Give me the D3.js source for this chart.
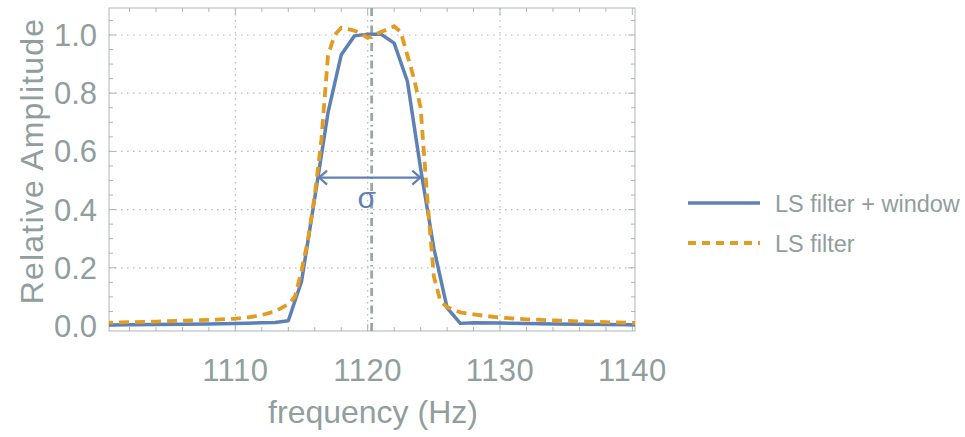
<!DOCTYPE html>
<html>
<head>
<meta charset="utf-8">
<script src="https://cdn.jsdelivr.net/npm/d3@7"></script>
<style>
  body { margin: 0; background: #fff; }
  svg text { font-family: "Liberation Sans", Arial, sans-serif; fill: #909e9e; }
</style>
</head>
<body>
<svg id="chart" width="965" height="437"></svg>
<script>
// Data
const windowFreq = [1100, 1102, 1104, 1106, 1108, 1110, 1112, 1113, 1114, 1115, 1116, 1117, 1118, 1119, 1120, 1121, 1122, 1123, 1124, 1125, 1126, 1127, 1128, 1130, 1132, 1134, 1136, 1138, 1140, 1141];
const windowAmp  = [0.003, 0.004, 0.005, 0.006, 0.007, 0.009, 0.011, 0.012, 0.018, 0.153, 0.44, 0.733, 0.932, 0.997, 1.003, 1.003, 0.972, 0.841, 0.54, 0.267, 0.062, 0.009, 0.011, 0.010, 0.009, 0.007, 0.006, 0.005, 0.004, 0.004];

const filterFreq = [1100, 1102, 1104, 1106, 1108, 1110, 1111, 1112, 1113, 1114, 1114.5, 1115, 1115.5, 1116, 1116.5, 1117, 1117.5, 1118, 1118.5, 1119, 1119.5, 1120, 1120.5, 1121, 1121.5, 1122, 1122.5, 1123, 1123.5, 1124, 1124.5, 1125, 1125.5, 1126, 1126.5, 1127, 1128, 1129, 1130, 1132, 1134, 1136, 1138, 1140, 1141];
const filterAmp  = [0.011, 0.013, 0.015, 0.018, 0.021, 0.025, 0.030, 0.038, 0.050, 0.075, 0.10, 0.19, 0.30, 0.45, 0.64, 0.93, 1.0, 1.025, 1.02, 1.015, 1.005, 0.99, 1.0, 1.01, 1.02, 1.03, 1.01, 0.93, 0.85, 0.75, 0.44, 0.17, 0.085, 0.065, 0.055, 0.047, 0.040, 0.034, 0.029, 0.023, 0.019, 0.016, 0.013, 0.011, 0.011];

const xMajorTicks = [1110, 1120, 1130, 1140];
const yMajorTicks = [0, 0.2, 0.4, 0.6, 0.8, 1.0];
const centerFreq = 1120.3;
const sigmaSpan = [1116.25, 1124.05];
const sigmaLevel = 0.51;
const seriesNames = ['LS filter + window', 'LS filter'];

const blue = '#5e81b5', orange = '#e19c24';

const svg = d3.select('#chart');
const pLeft = 109, pRight = 635, pTop = 8, pBottom = 331;

const x = d3.scaleLinear().domain([1100.45, 1140.2]).range([pLeft, pRight]);
const y = d3.scaleLinear().domain([-0.0172, 1.0928]).range([pBottom, pTop]);

// clip
svg.append('defs').append('clipPath').attr('id', 'plot')
  .append('rect').attr('x', pLeft).attr('y', pTop).attr('width', pRight - pLeft).attr('height', pBottom - pTop);

// grid
const grid = svg.append('g').attr('stroke', '#b9b9b9').attr('stroke-width', 1.2).attr('stroke-dasharray', '1.5,4.5');
grid.selectAll('.gx').data(xMajorTicks.filter(d => d < 1140)).enter().append('line')
  .attr('x1', d => x(d)).attr('x2', d => x(d)).attr('y1', pTop).attr('y2', pBottom);
grid.selectAll('.gy').data(yMajorTicks.filter(d => d > 0)).enter().append('line')
  .attr('y1', d => y(d)).attr('y2', d => y(d)).attr('x1', pLeft).attr('x2', pRight);

// frame ticks (all sides, inward)
const frame = svg.append('g').attr('stroke', '#adb5b5').attr('stroke-width', 1);
const xMinor = d3.range(1102, 1141, 2).filter(d => !xMajorTicks.includes(d));
const yMinor = d3.range(0, 1.09, 0.05).map(d => +d.toFixed(2)).filter(d => !yMajorTicks.includes(d));
[[xMajorTicks, 7], [xMinor, 4]].forEach(([ticks, len]) => {
  frame.selectAll(null).data(ticks).enter().append('line')
    .attr('x1', d => x(d)).attr('x2', d => x(d)).attr('y1', pBottom).attr('y2', pBottom - len);
  frame.selectAll(null).data(ticks).enter().append('line')
    .attr('x1', d => x(d)).attr('x2', d => x(d)).attr('y1', pTop).attr('y2', pTop + len);
});
[[yMajorTicks, 7], [yMinor, 4]].forEach(([ticks, len]) => {
  frame.selectAll(null).data(ticks).enter().append('line')
    .attr('y1', d => y(d)).attr('y2', d => y(d)).attr('x1', pLeft).attr('x2', pLeft + len);
  frame.selectAll(null).data(ticks).enter().append('line')
    .attr('y1', d => y(d)).attr('y2', d => y(d)).attr('x1', pRight).attr('x2', pRight - len);
});
frame.append('rect').attr('x', pLeft).attr('y', pTop).attr('width', pRight - pLeft).attr('height', pBottom - pTop).attr('fill', 'none');

// tick labels
svg.selectAll('.xl').data(xMajorTicks).enter().append('text')
  .attr('x', d => x(d)).attr('y', 381).attr('text-anchor', 'middle').attr('font-size', 31)
  .attr('letter-spacing', 0.5).text(d => d);
svg.selectAll('.yl').data(yMajorTicks).enter().append('text')
  .attr('x', 97).attr('y', d => y(d) + 11).attr('text-anchor', 'end').attr('font-size', 31)
  .text(d => d.toFixed(1));

// axis titles
svg.append('text').attr('x', 373).attr('y', 423).attr('text-anchor', 'middle').attr('font-size', 32)
  .text('frequency (Hz)');
svg.append('text').attr('transform', 'translate(43,161) rotate(-90)').attr('text-anchor', 'middle').attr('font-size', 32)
  .attr('letter-spacing', 1.2).text('Relative Amplitude');

// curves
const plot = svg.append('g').attr('clip-path', 'url(#plot)');
const line = d3.line().x(d => x(d[0])).y(d => y(d[1]));

plot.append('line')
  .attr('x1', x(centerFreq)).attr('x2', x(centerFreq)).attr('y1', pTop).attr('y2', pBottom)
  .attr('stroke', '#9aa6a6').attr('stroke-width', 2.8).attr('stroke-dasharray', '8,4,1.5,4');

plot.append('path').datum(d3.zip(windowFreq, windowAmp))
  .attr('d', line).attr('fill', 'none').attr('stroke', blue).attr('stroke-width', 3.5).attr('stroke-linejoin', 'round');
plot.append('path').datum(d3.zip(filterFreq, filterAmp))
  .attr('d', line).attr('fill', 'none').attr('stroke', orange).attr('stroke-width', 3.8).attr('stroke-dasharray', '10,6');

// sigma arrow
const ay = y(sigmaLevel), ax1 = x(sigmaSpan[0]), ax2 = x(sigmaSpan[1]);
const arrow = svg.append('g').attr('stroke', blue).attr('stroke-width', 2.2).attr('fill', 'none');
arrow.append('line').attr('x1', ax1).attr('x2', ax2).attr('y1', ay).attr('y2', ay);
arrow.append('path').attr('d', `M${ax1 + 9},${ay - 7}L${ax1 + 1},${ay}L${ax1 + 9},${ay + 7}`);
arrow.append('path').attr('d', `M${ax2 - 9},${ay - 7}L${ax2 - 1},${ay}L${ax2 - 9},${ay + 7}`);
svg.append('text').attr('x', x(centerFreq) - 5).attr('y', ay + 30).attr('text-anchor', 'middle')
  .attr('font-family', '"Liberation Serif", serif').attr('font-size', 30).style('fill', blue)
  .text('σ');

// legend
const legend = svg.append('g');
const rows = [{ name: seriesNames[0], color: blue, dash: null, y: 203 }, { name: seriesNames[1], color: orange, dash: '8,6', y: 243 }];
rows.forEach(r => {
  legend.append('line').attr('x1', 688).attr('x2', 760).attr('y1', r.y).attr('y2', r.y)
    .attr('stroke', r.color).attr('stroke-width', r.dash ? 3.8 : 3.5).attr('stroke-dasharray', r.dash);
  legend.append('text').attr('x', 775).attr('y', r.y + 8.5).attr('font-size', 23.5).text(r.name);
});
</script>
</body>
</html>
